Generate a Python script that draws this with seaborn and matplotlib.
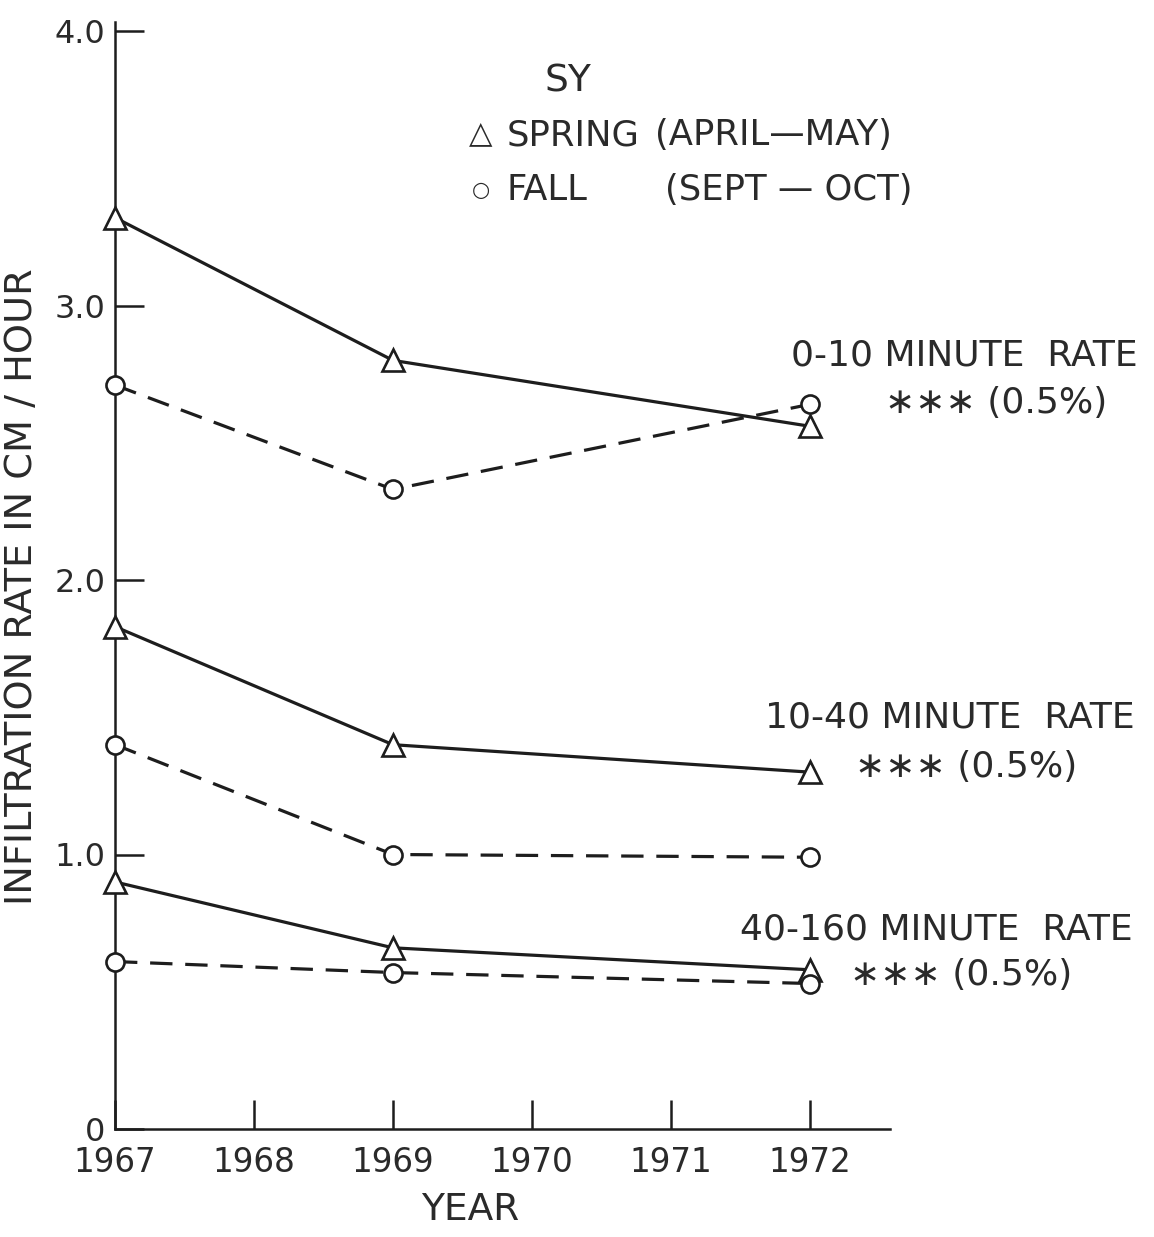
import matplotlib
matplotlib.use("Agg")
import matplotlib.pyplot as plt
import seaborn as sns
import pandas as pd

# Infiltration rates (cm/hour), SY treatment, spring vs fall
years = [1967, 1969, 1972]
spring_0_10 = [3.32, 2.80, 2.56]
fall_0_10 = [2.71, 2.33, 2.64]
spring_10_40 = [1.83, 1.40, 1.30]
fall_10_40 = [1.40, 1.00, 0.99]
spring_40_160 = [0.90, 0.66, 0.58]
fall_40_160 = [0.61, 0.57, 0.53]

year_ticks = [1967, 1968, 1969, 1970, 1971, 1972]
year_labels = ["1967", "1968", "1969", "1970", "1971", "1972"]
rate_ticks = [0, 1, 2, 3, 4]
rate_labels = ["0", "1.0", "2.0", "3.0", "4.0"]

series = {
    ("0-10", "Spring"): spring_0_10,
    ("0-10", "Fall"): fall_0_10,
    ("10-40", "Spring"): spring_10_40,
    ("10-40", "Fall"): fall_10_40,
    ("40-160", "Spring"): spring_40_160,
    ("40-160", "Fall"): fall_40_160,
}
rows = []
for (interval, season), vals in series.items():
    for yr, v in zip(years, vals):
        rows.append({"interval": interval, "season": season, "year": yr, "rate": v})
df = pd.DataFrame(rows)

sns.set_style("white")
plt.rcParams["font.family"] = ["DejaVu Sans"]

INK = "#1d1d1d"
TXT = "#2a2a2a"
W, H = 1154, 1237
fig = plt.figure(figsize=(W / 100, H / 100), dpi=100)
fig.patch.set_facecolor("white")


def fx(x):
    return x / W


def fy(y):
    return 1 - y / H


ax = fig.add_axes([fx(115), fy(1129), 775 / W, 1107 / H])
ax.set_facecolor("none")

# spring: solid line with open triangles
sns.lineplot(data=df[df.season == "Spring"], x="year", y="rate", units="interval",
             estimator=None, color=INK, linewidth=2.3, marker="^", markersize=16,
             markerfacecolor="white", markeredgecolor=INK, markeredgewidth=1.9,
             clip_on=False, zorder=4, ax=ax, legend=False)
# fall: dashed line with open circles
sns.lineplot(data=df[df.season == "Fall"], x="year", y="rate", units="interval",
             estimator=None, color=INK, linewidth=2.3, linestyle=(0, (7, 4)),
             marker="o", markersize=13, markerfacecolor="white",
             markeredgecolor=INK, markeredgewidth=1.9,
             clip_on=False, zorder=4, ax=ax, legend=False)

ax.set_xlim(1967, 1967 + 775 / 139)
ax.set_ylim(0, 1107 / 274.5)
sns.despine(ax=ax)
for side in ("left", "bottom"):
    ax.spines[side].set_linewidth(1.8)
    ax.spines[side].set_color(INK)
    ax.spines[side].set_zorder(2)

ax.set_xticks(year_ticks)
ax.set_xticklabels(year_labels)
ax.set_yticks(rate_ticks)
ax.set_yticklabels(rate_labels)
ax.tick_params(axis="x", bottom=True, direction="in", length=21, width=1.8,
               color=INK, pad=12, labelsize=23.5, labelcolor=TXT)
ax.tick_params(axis="y", left=True, direction="in", length=21, width=1.8,
               color=INK, pad=7, labelsize=23, labelcolor=TXT)

ax.set_xlabel("YEAR", fontsize=27, color=TXT)
ax.xaxis.set_label_coords(0.458, -0.0565)
ax.set_ylabel("INFILTRATION RATE IN CM / HOUR", fontsize=27.5, color=TXT)
ax.yaxis.set_label_coords(-0.097, 0.49)

# key
fig.text(fx(568), fy(82), "SY", fontsize=27, color=TXT, ha="center", va="center")
fig.text(fx(481), fy(134), "△", fontsize=22, color=TXT, ha="center", va="center")
fig.text(fx(507), fy(135), "SPRING", fontsize=25.5, color=TXT, ha="left", va="center")
fig.text(fx(655), fy(135), "(APRIL—MAY)", fontsize=25.5, color=TXT, ha="left", va="center")
fig.text(fx(481), fy(190), "○", fontsize=15, color=TXT, ha="center", va="center")
fig.text(fx(507), fy(190), "FALL", fontsize=25.5, color=TXT, ha="left", va="center")
fig.text(fx(665), fy(190), "(SEPT — OCT)", fontsize=25.5, color=TXT, ha="left", va="center")

# interval annotations with significance level
notes = [
    ("0-10 MINUTE  RATE", 1138, 355, 885, 403),
    ("10-40 MINUTE  RATE", 1135, 718, 855, 767),
    ("40-160 MINUTE  RATE", 1133, 930, 850, 975),
]
for label, xr, yl, xs, ys in notes:
    fig.text(fx(xr), fy(yl), label, fontsize=26, color=TXT, ha="right", va="center")
    fig.text(fx(xs), fy(ys), "∗∗∗ (0.5%)", fontsize=26, color=TXT, ha="left", va="center")

fig.savefig("out.png", dpi=100, facecolor="white")
